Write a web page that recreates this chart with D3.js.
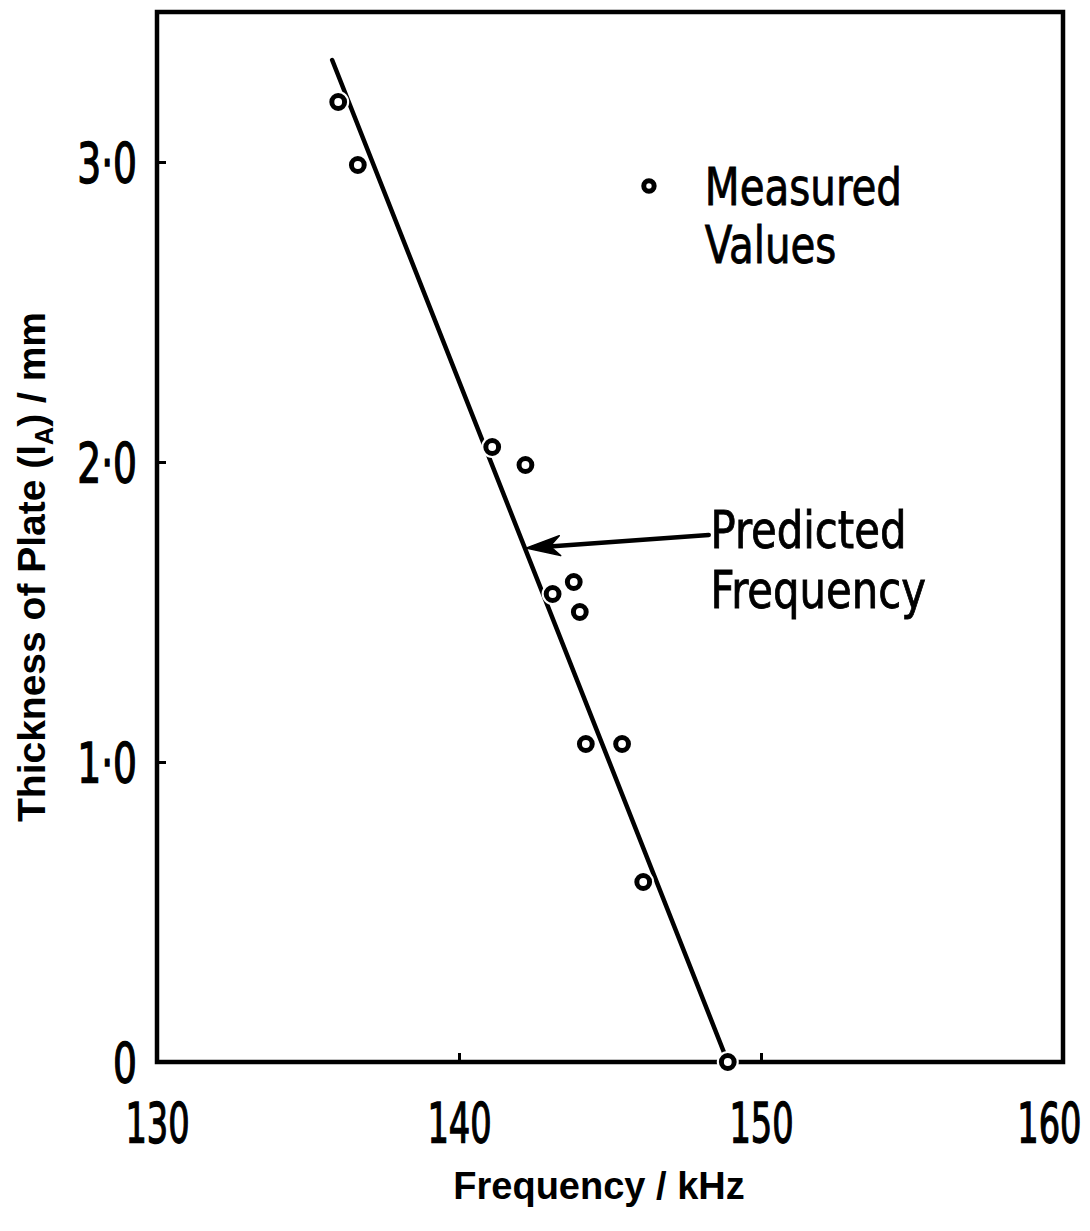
<!DOCTYPE html>
<html><head><meta charset="utf-8">
<script src="https://cdn.jsdelivr.net/npm/d3@7"></script>
<style>
body{margin:0;background:#fff;}
svg{display:block;}
</style></head>
<body>
<svg id="chart" width="1090" height="1231"></svg>
<script>
// ---- data ----
const freqMeasured = [136.0, 136.65, 141.1, 142.2, 143.1, 143.8, 144.0, 144.2, 145.4, 146.1, 148.9];
const thickMeasured = [3.20, 2.99, 2.05, 1.99, 1.56, 1.60, 1.50, 1.06, 1.06, 0.60, 0.0];
const predictedFreq = [135.8, 148.9];
const predictedThick = [3.34, 0.0];
const xTicks = [130, 140, 150, 160];
const yTicks = [0, 1, 2, 3];
const xTitle = "Frequency / kHz";
const legendLabel = ["Measured", "Values"];
const arrowLabel = ["Predicted", "Frequency"];

const svg = d3.select("#chart");
const x = d3.scaleLinear().domain([130, 160]).range([157, 1063]);
const y = d3.scaleLinear().domain([0, 3.5]).range([1062, 12]);
const numFont = "'DejaVu Sans Condensed','DejaVu Sans',sans-serif";
const titleFont = "'Liberation Sans',Arial,sans-serif";

// squeeze text horizontally (reference uses a narrow stencil-like font)
function squeeze(sel, f) {
  sel.each(function () {
    const w = this.getComputedTextLength();
    d3.select(this).attr("textLength", w * f).attr("lengthAdjust", "spacingAndGlyphs");
  });
}

// frame
svg.append("rect").attr("x", x(130)).attr("y", y(3.5))
  .attr("width", x(160) - x(130)).attr("height", y(0) - y(3.5))
  .attr("fill", "none").attr("stroke", "#000").attr("stroke-width", 4.5);

// axes
const fmt = d => d === 0 ? "0" : d.toFixed(1).replace(".", "\u00B7");
const xAxis = svg.append("g").attr("transform", `translate(0,${y(0)})`)
  .call(d3.axisBottom(x).tickValues(xTicks).tickSizeInner(-9).tickSizeOuter(0).tickPadding(41).tickFormat(d3.format("d")));
const yAxis = svg.append("g").attr("transform", `translate(${x(130)},0)`)
  .call(d3.axisLeft(y).tickValues(yTicks).tickSizeInner(-9).tickSizeOuter(0).tickPadding(20).tickFormat(fmt));
[xAxis, yAxis].forEach(g => {
  g.select(".domain").remove();
  g.selectAll(".tick line").attr("stroke", "#000").attr("stroke-width", 3);
  g.selectAll(".tick text").attr("fill", "#000").attr("font-family", numFont).attr("font-size", 55)
    .attr("stroke", "#000").attr("stroke-width", 1.3);
});
// horizontal compression via transform (narrow lettering in reference)
const sx = 0.68, sy = 0.76;
xAxis.selectAll(".tick text").attr("transform", `scale(${sx},1)`);
xAxis.selectAll(".tick text").filter(d => d === 160).attr("text-anchor", "end").attr("x", 18 / sx);
yAxis.selectAll(".tick text").attr("transform", `scale(${sy},1)`).attr("x", -20 / sy).attr("dy", "0.36em");

// predicted line
const pts = predictedFreq.map((f, i) => [f, predictedThick[i]]);
svg.append("path").attr("d", d3.line().x(d => x(d[0])).y(d => y(d[1]))(pts))
  .attr("stroke", "#000").attr("stroke-width", 4.5).attr("fill", "none").attr("stroke-linecap", "round");

// measured points: halos then circles
const meas = freqMeasured.map((f, i) => [f, thickMeasured[i]]);
svg.append("g").selectAll("circle").data(meas).join("circle")
  .attr("cx", d => x(d[0])).attr("cy", d => y(d[1])).attr("r", 11).attr("fill", "#fff");
svg.append("g").selectAll("circle").data(meas).join("circle")
  .attr("cx", d => x(d[0])).attr("cy", d => y(d[1])).attr("r", 6.4)
  .attr("fill", "#fff").attr("stroke", "#000").attr("stroke-width", 5);

// legend
svg.append("circle").attr("cx", x(146.29)).attr("cy", y(2.92)).attr("r", 5.2)
  .attr("fill", "#fff").attr("stroke", "#000").attr("stroke-width", 5);
const lt = svg.append("g").selectAll("text").data(legendLabel).join("text")
  .attr("x", x(148.14)).attr("y", (d, i) => y(2.857) + i * 58)
  .attr("font-family", numFont).attr("font-size", 51).attr("fill", "#000")
  .attr("stroke", "#000").attr("stroke-width", 0.8).text(d => d);
squeeze(lt, 0.88);

// annotation arrow
const ax0 = x(148.27), ay0 = y(1.757), ax1 = x(142.22), ay1 = y(1.713);
const ang = Math.atan2(ay1 - ay0, ax1 - ax0);
const rot = (dx, dy) => [ax1 + dx * Math.cos(ang) - dy * Math.sin(ang), ay1 + dx * Math.sin(ang) + dy * Math.cos(ang)];
svg.append("line").attr("x1", ax0).attr("y1", ay0).attr("x2", rot(-20, 0)[0]).attr("y2", rot(-20, 0)[1])
  .attr("stroke", "#000").attr("stroke-width", 4.5).attr("stroke-linecap", "round");
const head = [rot(0, 0), rot(-34, -10), rot(-24, 0), rot(-34, 10)];
svg.append("path").attr("d", "M" + head.map(p => p.join(",")).join("L") + "Z").attr("fill", "#000")
  .attr("stroke", "#000").attr("stroke-width", 1.5).attr("stroke-linejoin", "round");
const at = svg.append("g").selectAll("text").data(arrowLabel).join("text")
  .attr("x", x(148.33)).attr("y", (d, i) => y(1.713) + i * 60)
  .attr("font-family", numFont).attr("font-size", 51).attr("fill", "#000")
  .attr("stroke", "#000").attr("stroke-width", 0.8).text(d => d);
squeeze(at, 0.91);

// axis titles
svg.append("text").attr("x", 599).attr("y", 1199).attr("text-anchor", "middle")
  .attr("font-family", titleFont).attr("font-weight", "bold").attr("font-size", 38).text(xTitle);
const yt = svg.append("text").attr("transform", "translate(45,567) rotate(-90)").attr("text-anchor", "middle")
  .attr("font-family", titleFont).attr("font-weight", "bold").attr("font-size", 39);
yt.append("tspan").text("Thickness of Plate (l");
yt.append("tspan").attr("font-size", 25).attr("dy", 8).text("A");
yt.append("tspan").attr("dy", -8).text(") / mm");
</script>
</body></html>
